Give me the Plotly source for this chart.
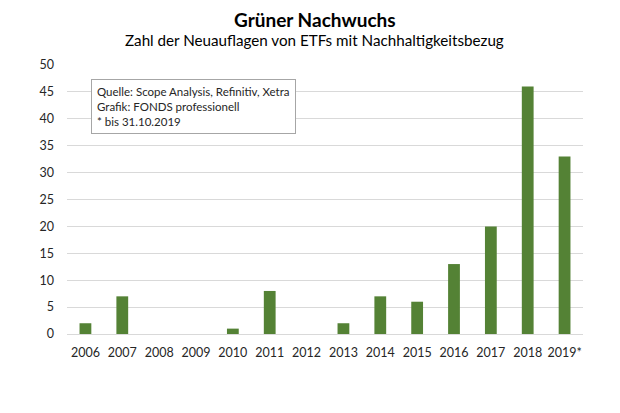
import plotly.graph_objects as go

years = ["2006", "2007", "2008", "2009", "2010", "2011", "2012", "2013",
         "2014", "2015", "2016", "2017", "2018", "2019*"]
launches = [2, 7, 0, 0, 1, 8, 0, 2, 7, 6, 13, 20, 46, 33]
y_ticks = [0, 5, 10, 15, 20, 25, 30, 35, 40, 45, 50]

title = "Grüner Nachwuchs"
subtitle = "Zahl der Neuauflagen von ETFs mit Nachhaltigkeitsbezug"
note = "Quelle: Scope Analysis, Refinitiv, Xetra<br>Grafik: FONDS professionell<br>* bis 31.10.2019"

font = "Lato"

fig = go.Figure(go.Bar(
    x=years, y=launches,
    marker=dict(color="#548235", line=dict(width=0)),
))

fig.update_layout(
    width=620, height=413,
    margin=dict(l=67, r=37, t=65, b=79),
    paper_bgcolor="white", plot_bgcolor="white",
    bargap=0.68,
    showlegend=False,
    font=dict(family=font, size=12, color="#262626"),
    xaxis=dict(type="category", showgrid=False, showline=False, ticks="",
               tickfont=dict(size=12.5, color="#262626"),
               ticklabelstandoff=9),
    yaxis=dict(range=[0, 50], tickvals=y_ticks, showgrid=True,
               gridcolor="#d9d9d9", gridwidth=1, zeroline=True,
               zerolinecolor="#d9d9d9", zerolinewidth=1,
               ticks="", tickfont=dict(size=12.5, color="#262626"),
               ticklabelstandoff=12),
    annotations=[
        dict(text="<b>" + title + "</b>", xref="paper", yref="paper",
             x=0.48, y=1, yshift=46, xanchor="center", yanchor="middle",
             showarrow=False, font=dict(size=19, color="#000000", family=font)),
        dict(text=subtitle, xref="paper", yref="paper",
             x=0.48, y=1, yshift=25, xanchor="center", yanchor="middle",
             showarrow=False, font=dict(size=15.2, color="#000000", family=font)),
        dict(text=note, xref="paper", yref="paper",
             x=(90.7 - 67) / 516, y=(334 - 79) / 269,
             xanchor="left", yanchor="top", align="left",
             showarrow=False, bgcolor="white", bordercolor="#a6a6a6",
             borderwidth=1, borderpad=5,
             font=dict(size=11.5, color="#262626", family=font)),
    ],
)

fig.write_html("out.html")
